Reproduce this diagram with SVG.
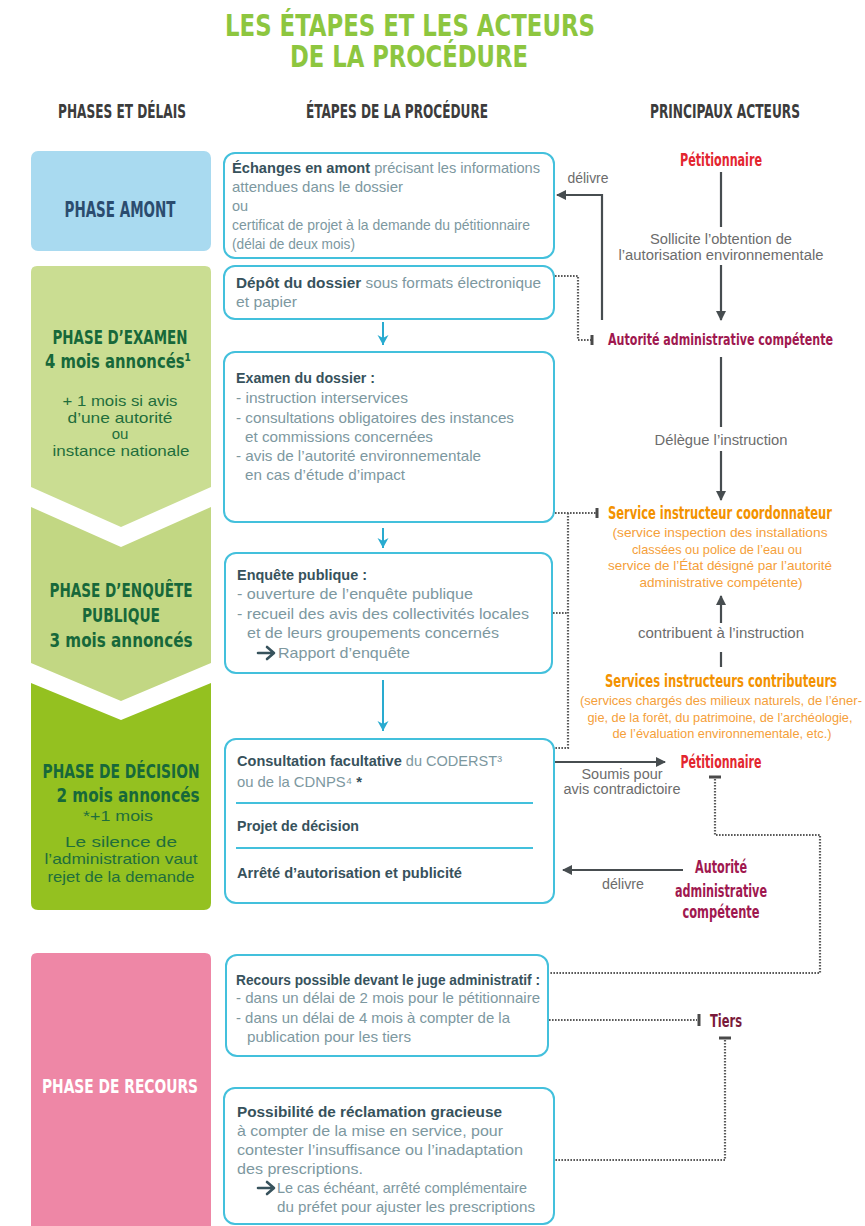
<svg xmlns="http://www.w3.org/2000/svg" width="865" height="1226" viewBox="0 0 865 1226">
<defs>
<style>
.hd{font-family:"Liberation Sans Narrow","DejaVu Sans Condensed","Roboto Condensed","Liberation Sans",sans-serif;font-weight:bold;font-stretch:condensed}
.tx{font-family:"Liberation Sans","DejaVu Sans",sans-serif;font-size:14.5px;fill:#7d989f}
.b{font-weight:bold;fill:#37525c}
.box{fill:#fff;stroke:#43c0dc;stroke-width:2}
.sep{stroke:#43c0dc;stroke-width:2}
.dk{fill:none;stroke:#474d50;stroke-width:2.2}
.dot{fill:none;stroke:#5a5a5a;stroke-width:2.2;stroke-dasharray:1.6 1.4}
.tee{stroke:#4a4a4a;stroke-width:3}
.cy{fill:none;stroke:#29abd0;stroke-width:2}
.gl{font-family:"Liberation Sans","DejaVu Sans",sans-serif;font-size:14px;fill:#6c6c6c;text-anchor:middle}
.or{font-family:"Liberation Sans","DejaVu Sans",sans-serif;font-size:13px;fill:#f5a03a;text-anchor:middle}
.pm{font-family:"Liberation Sans","DejaVu Sans",sans-serif;font-size:15px;fill:#1f6e3c;text-anchor:middle}
.ico{fill:none;stroke:#37525c;stroke-width:2.6;stroke-linecap:round;stroke-linejoin:round}
</style>
<marker id="ad" markerWidth="10" markerHeight="10" refX="9" refY="5" orient="auto" markerUnits="userSpaceOnUse">
<path d="M0,0 L10,5 L0,10 Z" fill="#474d50"/>
</marker>
<marker id="ac" markerWidth="12" markerHeight="12" refX="10" refY="6" orient="auto" markerUnits="userSpaceOnUse">
<path d="M0,0.5 L10,6 L0,11.5 L3,6 Z" fill="#29abd0"/>
</marker>
</defs>
<rect width="865" height="1226" fill="#fff"/>

<g id="title">
<text class="hd" x="410" y="36" font-size="31" fill="#8dc63f" text-anchor="middle" textLength="370" lengthAdjust="spacingAndGlyphs">LES ÉTAPES ET LES ACTEURS</text>
<text class="hd" x="409" y="67" font-size="31" fill="#8dc63f" text-anchor="middle" textLength="238" lengthAdjust="spacingAndGlyphs">DE LA PROCÉDURE</text>
</g>
<g id="headers" fill="#3c3c3c">
<text class="hd" x="122" y="118" font-size="19" text-anchor="middle" textLength="128" lengthAdjust="spacingAndGlyphs">PHASES ET DÉLAIS</text>
<text class="hd" x="397" y="118" font-size="19" text-anchor="middle" textLength="182" lengthAdjust="spacingAndGlyphs">ÉTAPES DE LA PROCÉDURE</text>
<text class="hd" x="725" y="118" font-size="19" text-anchor="middle" textLength="150" lengthAdjust="spacingAndGlyphs">PRINCIPAUX ACTEURS</text>
</g>

<g id="phase-amont">
<rect x="31" y="151" width="180" height="100" rx="7" fill="#a9daf0"/>
<text class="hd" x="120" y="217" font-size="21" fill="#2b4c6f" text-anchor="middle" textLength="111" lengthAdjust="spacingAndGlyphs">PHASE AMONT</text>
</g>
<g id="phase-examen">
<path d="M31,272 Q31,266 37,266 L205,266 Q211,266 211,272 L211,487 L121,527 L31,487 Z" fill="#cadd92"/>
<text class="hd" x="120" y="344" font-size="20" fill="#17683a" text-anchor="middle" textLength="135" lengthAdjust="spacingAndGlyphs">PHASE D’EXAMEN</text>
<text class="hd" x="118" y="368" font-size="20" fill="#17683a" text-anchor="middle" textLength="146" lengthAdjust="spacingAndGlyphs">4 mois annoncés¹</text>
<text class="pm" x="120" y="406" textLength="115" lengthAdjust="spacingAndGlyphs">+ 1 mois si avis</text>
<text class="pm" x="120" y="423" textLength="105" lengthAdjust="spacingAndGlyphs">d’une autorité</text>
<text class="pm" x="120" y="439">ou</text>
<text class="pm" x="121" y="456" textLength="137" lengthAdjust="spacingAndGlyphs">instance nationale</text>
</g>
<g id="phase-enquete">
<path d="M31,507 L121,547 L211,507 L211,663 L121,701 L31,663 Z" fill="#c2d783"/>
<text class="hd" x="121" y="597" font-size="20" fill="#17683a" text-anchor="middle" textLength="143" lengthAdjust="spacingAndGlyphs">PHASE D’ENQUÊTE</text>
<text class="hd" x="121" y="622" font-size="20" fill="#17683a" text-anchor="middle" textLength="78" lengthAdjust="spacingAndGlyphs">PUBLIQUE</text>
<text class="hd" x="121" y="647" font-size="20" fill="#17683a" text-anchor="middle" textLength="143" lengthAdjust="spacingAndGlyphs">3 mois annoncés</text>
</g>
<g id="phase-decision">
<path d="M31,683 L121,720 L211,683 L211,903 Q211,910 204,910 L38,910 Q31,910 31,903 Z" fill="#94c120"/>
<text class="hd" x="121" y="778" font-size="20" fill="#17683a" text-anchor="middle" textLength="157" lengthAdjust="spacingAndGlyphs">PHASE DE DÉCISION</text>
<text class="hd" x="128" y="802" font-size="20" fill="#17683a" text-anchor="middle" textLength="143" lengthAdjust="spacingAndGlyphs">2 mois annoncés</text>
<text class="pm" x="118" y="821" textLength="70" lengthAdjust="spacingAndGlyphs">*+1 mois</text>
<text class="pm" x="121" y="847" textLength="112" lengthAdjust="spacingAndGlyphs">Le silence de</text>
<text class="pm" x="121" y="864" textLength="153" lengthAdjust="spacingAndGlyphs">l’administration vaut</text>
<text class="pm" x="121" y="882" textLength="147" lengthAdjust="spacingAndGlyphs">rejet de la demande</text>
</g>
<g id="phase-recours">
<path d="M31,959 Q31,953 37,953 L205,953 Q211,953 211,959 L211,1226 L31,1226 Z" fill="#ee87a6"/>
<text class="hd" x="120" y="1093" font-size="20" fill="#fff" text-anchor="middle" textLength="156" lengthAdjust="spacingAndGlyphs">PHASE DE RECOURS</text>
</g>

<g id="step-echanges">
<rect class="box" x="224" y="153" width="330" height="105" rx="11"/>
<text class="tx" x="232" y="173" textLength="308" lengthAdjust="spacingAndGlyphs"><tspan class="b">Échanges en amont</tspan> précisant les informations</text>
<text class="tx" x="232" y="192" textLength="171" lengthAdjust="spacingAndGlyphs">attendues dans le dossier</text>
<text class="tx" x="232" y="211">ou</text>
<text class="tx" x="232" y="230" textLength="298" lengthAdjust="spacingAndGlyphs">certificat de projet à la demande du pétitionnaire</text>
<text class="tx" x="232" y="249" textLength="123" lengthAdjust="spacingAndGlyphs">(délai de deux mois)</text>
</g>
<g id="step-depot">
<rect class="box" x="224" y="266" width="330" height="53" rx="11"/>
<text class="tx" x="236" y="288" textLength="305" lengthAdjust="spacingAndGlyphs"><tspan class="b">Dépôt du dossier</tspan> sous formats électronique</text>
<text class="tx" x="236" y="307" textLength="61" lengthAdjust="spacingAndGlyphs">et papier</text>
</g>
<g id="step-examen">
<rect class="box" x="224" y="352" width="330" height="170" rx="11"/>
<text class="tx b" x="236" y="383" textLength="139" lengthAdjust="spacingAndGlyphs">Examen du dossier :</text>
<text class="tx" x="236" y="403" textLength="172" lengthAdjust="spacingAndGlyphs">- instruction interservices</text>
<text class="tx" x="236" y="423" textLength="278" lengthAdjust="spacingAndGlyphs">- consultations obligatoires des instances</text>
<text class="tx" x="245" y="442" textLength="188" lengthAdjust="spacingAndGlyphs">et commissions concernées</text>
<text class="tx" x="236" y="461" textLength="245" lengthAdjust="spacingAndGlyphs">- avis de l’autorité environnementale</text>
<text class="tx" x="245" y="480" textLength="160" lengthAdjust="spacingAndGlyphs">en cas d’étude d’impact</text>
</g>
<g id="step-enquete">
<rect class="box" x="225" y="553" width="327" height="120" rx="11"/>
<text class="tx b" x="237" y="580" textLength="130" lengthAdjust="spacingAndGlyphs">Enquête publique :</text>
<text class="tx" x="237" y="599" textLength="236" lengthAdjust="spacingAndGlyphs">- ouverture de l’enquête publique</text>
<text class="tx" x="237" y="619" textLength="292" lengthAdjust="spacingAndGlyphs">- recueil des avis des collectivités locales</text>
<text class="tx" x="247" y="638" textLength="252" lengthAdjust="spacingAndGlyphs">et de leurs groupements concernés</text>
<path class="ico" d="M258,653 H273 M267,647 L274,653 L267,659"/>
<text class="tx" x="278" y="658" textLength="132" lengthAdjust="spacingAndGlyphs">Rapport d’enquête</text>
</g>
<g id="step-decision">
<rect class="box" x="225" y="739" width="329" height="164" rx="11"/>
<text class="tx" x="237" y="766" textLength="265" lengthAdjust="spacingAndGlyphs"><tspan class="b">Consultation facultative</tspan> du CODERST³</text>
<text class="tx" x="237" y="787" textLength="125" lengthAdjust="spacingAndGlyphs">ou de la CDNPS⁴ <tspan class="b">*</tspan></text>
<line class="sep" x1="236" y1="803" x2="533" y2="803"/>
<text class="tx b" x="237" y="831" textLength="122" lengthAdjust="spacingAndGlyphs">Projet de décision</text>
<line class="sep" x1="236" y1="848" x2="533" y2="848"/>
<text class="tx b" x="237" y="878" textLength="225" lengthAdjust="spacingAndGlyphs">Arrêté d’autorisation et publicité</text>
</g>
<g id="step-recours">
<rect class="box" x="226" y="955" width="322" height="101" rx="11"/>
<text class="tx b" x="236" y="985" textLength="304" lengthAdjust="spacingAndGlyphs">Recours possible devant le juge administratif :</text>
<text class="tx" x="236" y="1003" textLength="304" lengthAdjust="spacingAndGlyphs">- dans un délai de 2 mois pour le pétitionnaire</text>
<text class="tx" x="236" y="1023" textLength="274" lengthAdjust="spacingAndGlyphs">- dans un délai de 4 mois à compter de la</text>
<text class="tx" x="247" y="1042" textLength="164" lengthAdjust="spacingAndGlyphs">publication pour les tiers</text>
</g>
<g id="step-reclamation">
<rect class="box" x="224" y="1088" width="330" height="136" rx="11"/>
<text class="tx b" x="237" y="1117" textLength="265" lengthAdjust="spacingAndGlyphs">Possibilité de réclamation gracieuse</text>
<text class="tx" x="237" y="1136" textLength="266" lengthAdjust="spacingAndGlyphs">à compter de la mise en service, pour</text>
<text class="tx" x="237" y="1155" textLength="286" lengthAdjust="spacingAndGlyphs">contester l’insuffisance ou l’inadaptation</text>
<text class="tx" x="237" y="1174" textLength="126" lengthAdjust="spacingAndGlyphs">des prescriptions.</text>
<path class="ico" d="M258,1188 H273 M267,1182 L274,1188 L267,1194"/>
<text class="tx" x="277" y="1193" textLength="250" lengthAdjust="spacingAndGlyphs">Le cas échéant, arrêté complémentaire</text>
<text class="tx" x="277" y="1212" textLength="258" lengthAdjust="spacingAndGlyphs">du préfet pour ajuster les prescriptions</text>
</g>

<g id="actor-petitionnaire">
<text class="hd" x="721" y="166" font-size="17" fill="#e3262f" text-anchor="middle" textLength="82" lengthAdjust="spacingAndGlyphs">Pétitionnaire</text>
</g>
<g id="actor-autorite">
<text class="hd" x="833" y="345" font-size="16" fill="#a0184f" text-anchor="end" textLength="225" lengthAdjust="spacingAndGlyphs">Autorité administrative compétente</text>
</g>
<g id="actor-service-coordonnateur">
<text class="hd" x="832" y="519" font-size="17" fill="#f39200" text-anchor="end" textLength="224" lengthAdjust="spacingAndGlyphs">Service instructeur coordonnateur</text>
<text class="or" x="720" y="537" textLength="215" lengthAdjust="spacingAndGlyphs">(service inspection des installations</text>
<text class="or" x="717" y="554" textLength="170" lengthAdjust="spacingAndGlyphs">classées ou police de l’eau ou</text>
<text class="or" x="720" y="570" textLength="224" lengthAdjust="spacingAndGlyphs">service de l’État désigné par l’autorité</text>
<text class="or" x="721" y="587" textLength="163" lengthAdjust="spacingAndGlyphs">administrative compétente)</text>
</g>
<g id="actor-services-contributeurs">
<text class="hd" x="837" y="687" font-size="17" fill="#f39200" text-anchor="end" textLength="232" lengthAdjust="spacingAndGlyphs">Services instructeurs contributeurs</text>
<text class="or" x="721" y="705" font-size="12.5" textLength="282" lengthAdjust="spacingAndGlyphs">(services chargés des milieux naturels, de l’éner-</text>
<text class="or" x="720" y="722" font-size="12.5" textLength="265" lengthAdjust="spacingAndGlyphs">gie, de la forêt, du patrimoine, de l’archéologie,</text>
<text class="or" x="722" y="738" font-size="12.5" textLength="219" lengthAdjust="spacingAndGlyphs">de l’évaluation environnementale, etc.)</text>
</g>
<g id="actor-petitionnaire-2">
<text class="hd" x="721" y="768" font-size="17" fill="#e3262f" text-anchor="middle" textLength="81" lengthAdjust="spacingAndGlyphs">Pétitionnaire</text>
</g>
<g id="actor-autorite-2">
<text class="hd" x="721" y="873" font-size="17" fill="#a0184f" text-anchor="middle" textLength="52" lengthAdjust="spacingAndGlyphs">Autorité</text>
<text class="hd" x="721" y="897" font-size="17" fill="#a0184f" text-anchor="middle" textLength="92" lengthAdjust="spacingAndGlyphs">administrative</text>
<text class="hd" x="721" y="918" font-size="17" fill="#a0184f" text-anchor="middle" textLength="77" lengthAdjust="spacingAndGlyphs">compétente</text>
</g>
<g id="actor-tiers">
<text class="hd" x="726" y="1027" font-size="18" fill="#7a1a3a" text-anchor="middle" textLength="32" lengthAdjust="spacingAndGlyphs">Tiers</text>
</g>

<g id="connectors">
<line class="cy" x1="383" y1="322" x2="383" y2="345" marker-end="url(#ac)"/>
<line class="cy" x1="383" y1="528" x2="383" y2="548" marker-end="url(#ac)"/>
<line class="cy" x1="383" y1="680" x2="383" y2="731" marker-end="url(#ac)"/>
<line class="dk" x1="721" y1="172" x2="721" y2="227"/>
<text class="gl" x="721" y="244" textLength="142" lengthAdjust="spacingAndGlyphs">Sollicite l’obtention de</text>
<text class="gl" x="721" y="260" textLength="205" lengthAdjust="spacingAndGlyphs">l’autorisation environnementale</text>
<line class="dk" x1="721" y1="265" x2="721" y2="320" marker-end="url(#ad)"/>
<path class="dk" d="M602,320 V195 H557" marker-end="url(#ad)"/>
<text class="gl" x="588" y="183" textLength="41" lengthAdjust="spacingAndGlyphs">délivre</text>
<path class="dot" d="M555,276 H578 V340 H591"/>
<line class="tee" x1="592" y1="335" x2="592" y2="345"/>
<line class="dk" x1="721" y1="357" x2="721" y2="427"/>
<text class="gl" x="721" y="445" textLength="133" lengthAdjust="spacingAndGlyphs">Délègue l’instruction</text>
<line class="dk" x1="721" y1="451" x2="721" y2="500" marker-end="url(#ad)"/>
<path class="dot" d="M555,513 H596"/>
<line class="tee" x1="597" y1="508" x2="597" y2="518"/>
<path class="dot" d="M568,513 V748 H555"/>
<path class="dot" d="M553,613 H568"/>
<line class="dk" x1="721" y1="667" x2="721" y2="652"/>
<text class="gl" x="721" y="638" textLength="166" lengthAdjust="spacingAndGlyphs">contribuent à l’instruction</text>
<line class="dk" x1="721" y1="623" x2="721" y2="596" marker-end="url(#ad)"/>
<line class="dk" x1="555" y1="762" x2="665" y2="762" marker-end="url(#ad)"/>
<text class="gl" x="622" y="779" textLength="81" lengthAdjust="spacingAndGlyphs">Soumis pour</text>
<text class="gl" x="622" y="794" textLength="117" lengthAdjust="spacingAndGlyphs">avis contradictoire</text>
<line class="dk" x1="683" y1="870" x2="563" y2="870" marker-end="url(#ad)"/>
<text class="gl" x="623" y="889" textLength="42" lengthAdjust="spacingAndGlyphs">délivre</text>
<line class="tee" x1="709" y1="777" x2="721" y2="777"/>
<path class="dot" d="M715,779 V835 H820 V973 H549"/>
<path class="dot" d="M549,1020 H697"/>
<line class="tee" x1="699" y1="1014" x2="699" y2="1026"/>
<line class="tee" x1="719" y1="1038" x2="731" y2="1038"/>
<path class="dot" d="M725,1040 V1160 H555"/>
</g>
</svg>
